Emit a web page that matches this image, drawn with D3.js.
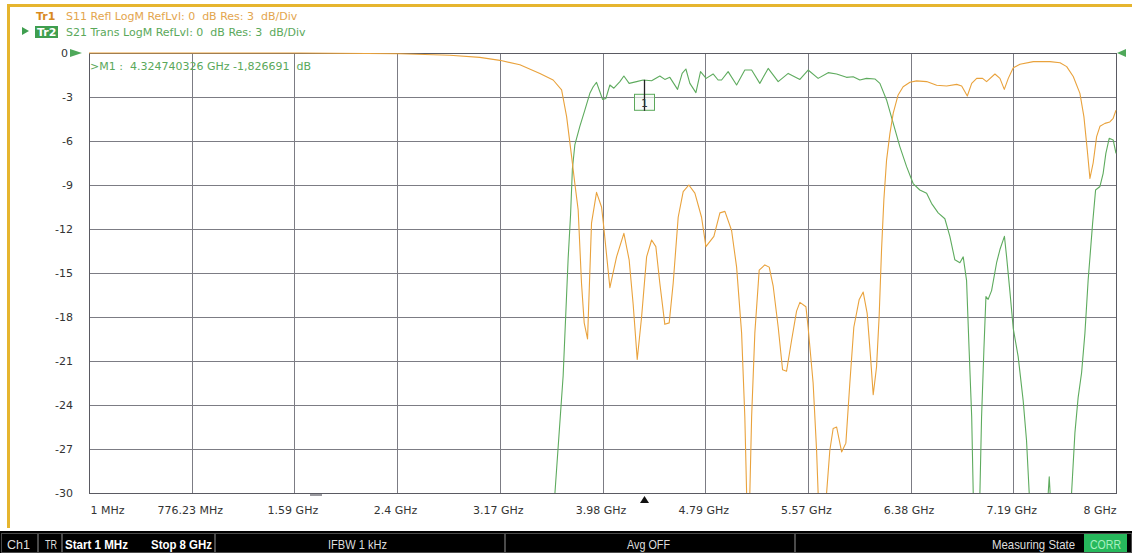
<!DOCTYPE html>
<html><head><meta charset="utf-8">
<script src="https://cdn.jsdelivr.net/npm/d3@7"></script>
<style>
body{margin:0;background:#fff;}
svg{display:block;}
text{white-space:pre;}
</style>
</head><body>
<svg id="chart" width="1132" height="553"></svg>
<script>
// ---------- data ----------
const s11Freq = [0.001,1.643,2.422,2.812,3.045,3.201,3.357,3.513,3.616,3.682,3.721,3.760,3.785,3.811,3.837,3.858,3.884,3.915,3.954,3.993,4.006,4.058,4.110,4.167,4.208,4.239,4.271,4.305,4.344,4.383,4.416,4.447,4.486,4.520,4.551,4.590,4.629,4.673,4.720,4.772,4.806,4.868,4.915,4.954,5.006,5.045,5.084,5.109,5.123,5.135,5.148,5.162,5.187,5.221,5.265,5.299,5.330,5.369,5.403,5.434,5.473,5.512,5.538,5.585,5.602,5.641,5.668,5.680,5.709,5.746,5.771,5.797,5.824,5.863,5.896,5.927,5.958,6.000,6.031,6.062,6.088,6.109,6.135,6.155,6.174,6.192,6.213,6.239,6.265,6.303,6.342,6.395,6.447,6.525,6.603,6.681,6.759,6.798,6.842,6.876,6.915,6.961,6.992,7.057,7.096,7.130,7.161,7.200,7.252,7.356,7.486,7.564,7.616,7.667,7.719,7.750,7.776,7.797,7.822,7.849,7.875,7.914,7.952,7.978,8.000];
const s11Db = [0,0,-0.05,-0.15,-0.3,-0.5,-0.8,-1.39,-1.84,-2.52,-4.34,-7.07,-8.9,-10.7,-15.7,-18.4,-19.5,-11.6,-9.5,-10.5,-11.5,-16.0,-13.9,-12.3,-14.1,-17.1,-20.9,-18.0,-13.9,-12.75,-13.2,-15.7,-18.5,-18.4,-15.7,-11.2,-9.45,-9.0,-9.55,-11.2,-13.2,-12.5,-10.9,-10.8,-12.1,-14.6,-19.1,-24.8,-30,-33,-30,-24.8,-19.1,-14.8,-14.45,-14.6,-15.9,-18.7,-21.6,-21.7,-19.6,-17.6,-17.0,-17.3,-18.7,-22.5,-27.1,-30,-34,-30,-27.1,-25.6,-25.5,-27.2,-26.6,-22.5,-18.7,-16.8,-16.3,-17.75,-20.7,-23.3,-21.4,-18.0,-13.4,-10.0,-7.3,-5.5,-4.1,-2.86,-2.3,-2.0,-1.9,-1.95,-2.2,-2.25,-2.14,-2.25,-2.93,-2.07,-1.73,-1.73,-1.95,-1.43,-1.73,-2.48,-1.73,-1.0,-0.77,-0.59,-0.59,-0.66,-0.93,-1.6,-2.75,-4.34,-6.6,-8.55,-7.5,-5.7,-5.0,-4.8,-4.7,-4.45,-3.9];

const s21Freq = [0.001,3.513,3.630,3.694,3.733,3.752,3.766,3.785,3.824,3.863,3.902,3.928,3.954,3.980,4.001,4.027,4.058,4.089,4.136,4.167,4.208,4.266,4.317,4.383,4.447,4.486,4.525,4.585,4.621,4.650,4.681,4.728,4.764,4.808,4.862,4.901,4.928,4.979,5.045,5.109,5.162,5.226,5.291,5.369,5.447,5.538,5.602,5.680,5.758,5.824,5.901,5.953,6.005,6.057,6.122,6.161,6.213,6.265,6.317,6.369,6.420,6.472,6.525,6.563,6.615,6.667,6.706,6.745,6.784,6.810,6.836,6.856,6.876,6.888,6.915,6.940,6.953,6.971,6.987,7.004,7.031,7.070,7.096,7.131,7.148,7.173,7.200,7.238,7.277,7.303,7.324,7.368,7.465,7.480,7.493,7.563,7.654,7.680,7.705,7.732,7.758,7.783,7.818,7.841,7.875,7.900,7.921,7.947,7.978,8.000];
const s21Db = [-60,-50,-30,-22.0,-14.0,-11.0,-7.9,-6.27,-5.0,-3.9,-2.75,-2.3,-2.0,-2.64,-3.16,-3.1,-2.18,-2.4,-1.95,-1.57,-2.07,-1.95,-1.84,-1.89,-1.57,-1.8,-1.66,-2.48,-1.39,-1.09,-2.07,-2.7,-1.27,-1.73,-1.43,-1.84,-1.84,-1.27,-2.18,-1.16,-1.16,-2.07,-1.05,-1.95,-1.39,-1.8,-1.16,-1.73,-1.34,-1.43,-1.66,-1.62,-1.84,-1.73,-1.77,-2.07,-3.2,-4.8,-6.4,-7.75,-8.9,-9.34,-9.57,-10.25,-10.9,-11.3,-12.5,-14.1,-14.3,-13.9,-15.5,-20.25,-24.8,-30,-34,-30,-24.8,-20.25,-16.6,-16.8,-16.2,-14.3,-13.4,-12.5,-13.9,-16.2,-18.8,-20.7,-23.7,-26.4,-30,-34,-31,-28.9,-31,-34,-30,-25.9,-23.5,-21.8,-19.1,-15.5,-11.6,-9.34,-9.1,-8.2,-6.84,-5.82,-5.93,-6.84];

const xTickLabels = ["1 MHz","776.23 MHz","1.59 GHz","2.4 GHz","3.17 GHz","3.98 GHz","4.79 GHz","5.57 GHz","6.38 GHz","7.19 GHz","8 GHz"];
const yTickValues = [0,-3,-6,-9,-12,-15,-18,-21,-24,-27,-30];
const traceHeaders = [
  {tag:"Tr1", text:"S11 Refl LogM RefLvl: 0  dB Res: 3  dB/Div"},
  {tag:"Tr2", text:"S21 Trans LogM RefLvl: 0  dB Res: 3  dB/Div"}
];
const markerFreq = 4.324740326;
const markerDb = -1.826691;
const markerText = ">M1 :  4.324740326 GHz -1,826691  dB";
const statusCells = ["Ch1","TR","Start 1 MHz","Stop 8 GHz","IFBW 1 kHz","Avg OFF","Measuring State","CORR"];

// ---------- layout ----------
const W = 1132, H = 553;
const plot = {left: 89, right: 1116, top: 53, bottom: 493};
const ORANGE = "#e9a23c", GREEN = "#5eab5e", GRID = "#7c7c84";
const FONT = "'DejaVu Sans', Verdana, sans-serif";

const svg = d3.select("#chart");
svg.append("rect").attr("width", W).attr("height", H).attr("fill", "#fff");

const x = d3.scaleLinear().domain([0.001, 8]).range([plot.left, plot.right]);
const y = d3.scaleLinear().domain([0, -30]).range([plot.top, plot.bottom]);
const xTickFreqs = d3.range(xTickLabels.length).map(i => 0.001 + i * (8 - 0.001) / (xTickLabels.length - 1));

// gold frame
svg.append("rect").attr("x", 7).attr("y", 4).attr("width", W - 7).attr("height", 3).attr("fill", "#e6b52e");
svg.append("rect").attr("x", 7).attr("y", 4).attr("width", 3).attr("height", 524).attr("fill", "#e6b52e");

// header lines
const hdr = svg.append("g").attr("font-family", FONT).attr("font-size", 11);
hdr.append("text").attr("x", 36).attr("y", 19.5).attr("fill", "#d98a1f").attr("font-weight", "bold").text(traceHeaders[0].tag);
hdr.append("text").attr("x", 66).attr("y", 19.5).attr("fill", "#e3a54d").text(traceHeaders[0].text);
hdr.append("path").attr("d", "M22,27 L29,31 L22,35 Z").attr("fill", "#3f9e4f");
hdr.append("rect").attr("x", 35).attr("y", 26).attr("width", 23).attr("height", 12).attr("fill", "#3f9e4f");
hdr.append("text").attr("x", 37).attr("y", 35.5).attr("fill", "#fff").attr("font-weight", "bold").text(traceHeaders[1].tag);
hdr.append("text").attr("x", 66).attr("y", 35.5).attr("fill", "#5aa85a").text(traceHeaders[1].text);

// grid
const grid = svg.append("g");
grid.selectAll("line.v").data(xTickFreqs).join("line")
  .attr("x1", d => Math.round(x(d)) + 0.5).attr("x2", d => Math.round(x(d)) + 0.5)
  .attr("y1", plot.top).attr("y2", plot.bottom).attr("stroke", GRID).attr("stroke-width", 1);
grid.selectAll("line.h").data(yTickValues).join("line")
  .attr("x1", plot.left).attr("x2", plot.right)
  .attr("y1", d => Math.round(y(d)) + 0.5).attr("y2", d => Math.round(y(d)) + 0.5)
  .attr("stroke", GRID).attr("stroke-width", 1);
svg.append("rect").attr("x", plot.left + 0.5).attr("y", plot.top + 0.5)
  .attr("width", plot.right - plot.left).attr("height", plot.bottom - plot.top)
  .attr("fill", "none").attr("stroke", "#5a5a62").attr("stroke-width", 1);

// axes labels
const yAxis = svg.append("g").attr("transform", `translate(${plot.left},0)`)
  .call(d3.axisLeft(y).tickValues(yTickValues).tickSize(0).tickPadding(16).tickFormat(d => d));
yAxis.select(".domain").remove();
yAxis.selectAll("text").attr("font-family", FONT).attr("font-size", 11).attr("fill", "#333")
  .attr("x", d => d === 0 ? -21 : -16);

const xAxis = svg.append("g").attr("transform", `translate(0,${plot.bottom})`)
  .call(d3.axisBottom(x).tickValues(xTickFreqs).tickSize(0).tickPadding(13).tickFormat((d, i) => xTickLabels[i]));
xAxis.select(".domain").remove();
xAxis.selectAll("text").attr("font-family", FONT).attr("font-size", 11).attr("fill", "#333")
  .attr("text-anchor", (d, i) => i === 0 ? "start" : (i === xTickLabels.length - 1 ? "end" : "middle"))
  .attr("x", (d, i) => i === 0 ? 1 : (i === xTickLabels.length - 1 ? 0 : -2));

// reference level markers
svg.append("path").attr("d", `M70,${plot.top - 4} L82,${plot.top} L70,${plot.top + 4} Z`).attr("fill", "#4fa85a");
svg.append("path").attr("d", `M1126,${plot.top - 4} L1117,${plot.top} L1126,${plot.top + 4} Z`).attr("fill", "#4fa85a");

// traces
svg.append("clipPath").attr("id", "clip").append("rect")
  .attr("x", plot.left).attr("y", plot.top - 1).attr("width", plot.right - plot.left + 1).attr("height", plot.bottom - plot.top + 1);
const line = d3.line().x(d => x(d[0])).y(d => y(d[1]));
const traces = svg.append("g").attr("clip-path", "url(#clip)");
traces.append("path").datum(d3.zip(s21Freq, s21Db)).attr("d", line)
  .attr("fill", "none").attr("stroke", GREEN).attr("stroke-width", 1.1).attr("stroke-linejoin", "round");
traces.append("path").datum(d3.zip(s11Freq, s11Db)).attr("d", line)
  .attr("fill", "none").attr("stroke", ORANGE).attr("stroke-width", 1.1).attr("stroke-linejoin", "round");

// marker
const mx = Math.round(x(markerFreq)) + 0.5;
svg.append("text").attr("x", plot.left + 1).attr("y", 70).attr("font-family", FONT).attr("font-size", 11)
  .attr("fill", "#5aa85a").text(markerText);
svg.append("rect").attr("x", mx - 10).attr("y", y(markerDb) + 14.5).attr("width", 20).attr("height", 16)
  .attr("fill", "#f4faf4").attr("fill-opacity", 0.6).attr("stroke", "#5aa85a").attr("stroke-width", 1);
svg.append("line").attr("x1", mx).attr("x2", mx).attr("y1", y(markerDb)).attr("y2", y(markerDb) + 31)
  .attr("stroke", "#222").attr("stroke-width", 1.3);
svg.append("text").attr("x", mx).attr("y", y(markerDb) + 27).attr("text-anchor", "middle")
  .attr("font-family", FONT).attr("font-size", 11).attr("fill", "#333").text("1");
svg.append("path").attr("d", `M${mx},${plot.bottom + 3} L${mx + 4.5},${plot.bottom + 10} L${mx - 4.5},${plot.bottom + 10} Z`).attr("fill", "#111");
svg.append("rect").attr("x", 310).attr("y", plot.bottom + 1).attr("width", 12).attr("height", 2).attr("fill", "#9a9aa0");

// status bar
const sb = svg.append("g");
sb.append("rect").attr("x", 0).attr("y", 531).attr("width", W).attr("height", 22).attr("fill", "#000");
const cellBoxes = [[1, 38], [38, 62], [62, 215], [215, 505], [505, 795], [795, 1132]];
sb.selectAll("rect.cell").data(cellBoxes).join("rect")
  .attr("x", d => d[0] + 0.5).attr("y", 533.5).attr("width", d => d[1] - d[0] - 1).attr("height", 19)
  .attr("fill", "none").attr("stroke", "#4a4a4a").attr("stroke-width", 1);
sb.append("rect").attr("x", 1084).attr("y", 534).attr("width", 43).attr("height", 18).attr("fill", "#27b85c");
const SF = "'Liberation Sans', Arial, sans-serif";
const cellText = [
  {t: statusCells[0], x: 7, a: "start", w: "normal", c: "#ddd", len: 23},
  {t: statusCells[1], x: 45, a: "start", w: "normal", c: "#ddd", len: 12},
  {t: statusCells[2], x: 65, a: "start", w: "bold", c: "#fff", len: 63},
  {t: statusCells[3], x: 151, a: "start", w: "bold", c: "#fff", len: 61},
  {t: statusCells[4], x: 328, a: "start", w: "normal", c: "#ddd", len: 59},
  {t: statusCells[5], x: 627, a: "start", w: "normal", c: "#ddd", len: 43},
  {t: statusCells[6], x: 992, a: "start", w: "normal", c: "#ddd", len: 83},
  {t: statusCells[7], x: 1090, a: "start", w: "normal", c: "#a8f0c0", len: 31}
];
sb.selectAll("text").data(cellText).join("text")
  .attr("x", d => d.x).attr("y", 549).attr("text-anchor", d => d.a)
  .attr("font-family", SF).attr("font-size", 13).attr("font-weight", d => d.w).attr("fill", d => d.c)
  .attr("textLength", d => d.len).attr("lengthAdjust", "spacingAndGlyphs")
  .text(d => d.t);
</script>
</body></html>
